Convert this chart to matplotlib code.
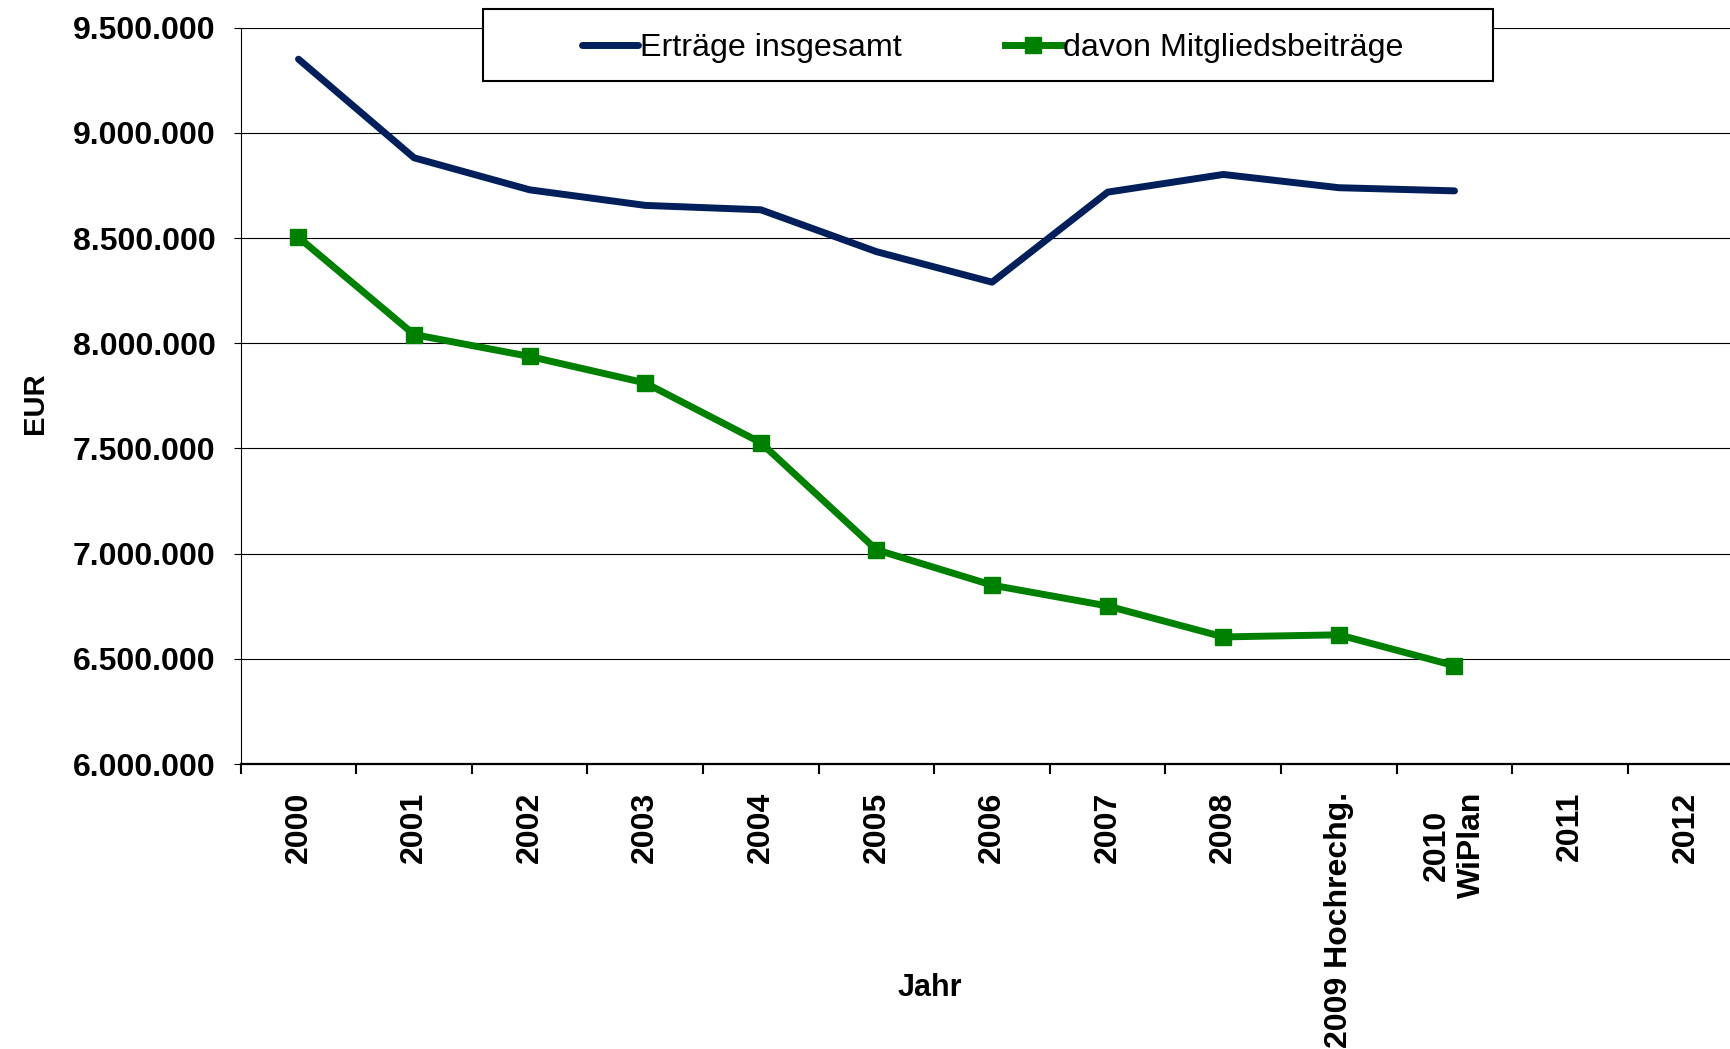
import numpy as np
import matplotlib.pyplot as plt
from matplotlib.patches import Rectangle
from matplotlib.ticker import FuncFormatter, FixedLocator

plt.rcParams['font.family'] = ['Liberation Sans', 'DejaVu Sans']

# Kategorien (x-Achse) und Werte in EUR
jahre = ['2000', '2001', '2002', '2003', '2004', '2005', '2006', '2007',
         '2008', '2009 Hochrechg.', '2010\nWiPlan', '2011', '2012']
ertraege = [9350000, 8881000, 8729000, 8655000, 8634000, 8435000, 8290000,
            8718000, 8802000, 8739000, 8724000]
mitglieder = [8503000, 8041000, 7937000, 7811000, 7527000, 7018000, 6850000,
              6751000, 6604000, 6614000, 6467000]
y_ticks = [6000000, 6500000, 7000000, 7500000, 8000000, 8500000, 9000000, 9500000]

W, H = 1731, 1049
fig = plt.figure(figsize=(W / 100, H / 100), dpi=100)
ax = fig.add_axes([240.7 / W, (H - 764) / H, 13 * 115.6 / W, (764 - 27.6) / H])

x_c = np.arange(len(jahre)) + 0.5
ax.plot(x_c[:len(ertraege)], ertraege, color='#001f5b', lw=5,
        solid_capstyle='round', label='Erträge insgesamt', zorder=3)
ax.plot(x_c[:len(mitglieder)], mitglieder, color='#008000', lw=5,
        marker='s', markersize=11, label='davon Mitgliedsbeiträge', zorder=4)

ax.set_xlim(0, len(jahre))
ax.set_ylim(6000000, 9500000)

ax.set_yticks(y_ticks)
ax.yaxis.set_major_formatter(FuncFormatter(lambda v, p: f"{int(v):,}".replace(',', '.')))
ax.tick_params(axis='y', length=5, width=0.8, pad=13, labelsize=23)
for t in ax.get_yticklabels():
    t.set_fontweight('bold')

# Grenzen der Kategorien als Ticks, Beschriftung in der Mitte
ax.xaxis.set_major_locator(FixedLocator(np.arange(len(jahre) + 1)))
ax.xaxis.set_major_formatter(FuncFormatter(lambda v, p: ''))
ax.xaxis.set_minor_locator(FixedLocator(x_c))
ax.set_xticklabels(jahre, minor=True, rotation=90, fontsize=23,
                   fontweight='bold', va='top', ha='center', multialignment='center')
ax.tick_params(axis='x', which='major', length=7, width=1.5, direction='out')
ax.tick_params(axis='x', which='minor', length=0, pad=20)

ax.grid(axis='y', color='black', lw=0.8)
ax.set_axisbelow(True)
for s in ['top', 'right']:
    ax.spines[s].set_visible(False)
ax.spines['left'].set_linewidth(0.8)
ax.spines['bottom'].set_linewidth(1.6)

ax.set_xlabel('Jahr', fontsize=22, fontweight='bold', va='center')
ax.xaxis.set_label_coords(0.4587, -0.304)
ax.set_ylabel('EUR', fontsize=21, fontweight='bold', va='center')
ax.yaxis.set_label_coords(-0.1368, 0.490)

# Legendenrahmen
fig.patches.append(Rectangle((483 / W, 1 - 81 / H), 1010 / W, 72 / H,
                             transform=fig.transFigure, facecolor='white',
                             edgecolor='black', lw=1.5, zorder=4))
leg = fig.legend(*ax.get_legend_handles_labels(), loc='center left',
                 bbox_to_anchor=(582 / W, 1 - 48 / H), ncol=2, frameon=False,
                 fontsize=23.2, handlelength=1.75, handletextpad=0.05,
                 columnspacing=3.2, borderpad=0, borderaxespad=0)
leg.set_zorder(6)

fig.savefig('out.png', dpi=100)
